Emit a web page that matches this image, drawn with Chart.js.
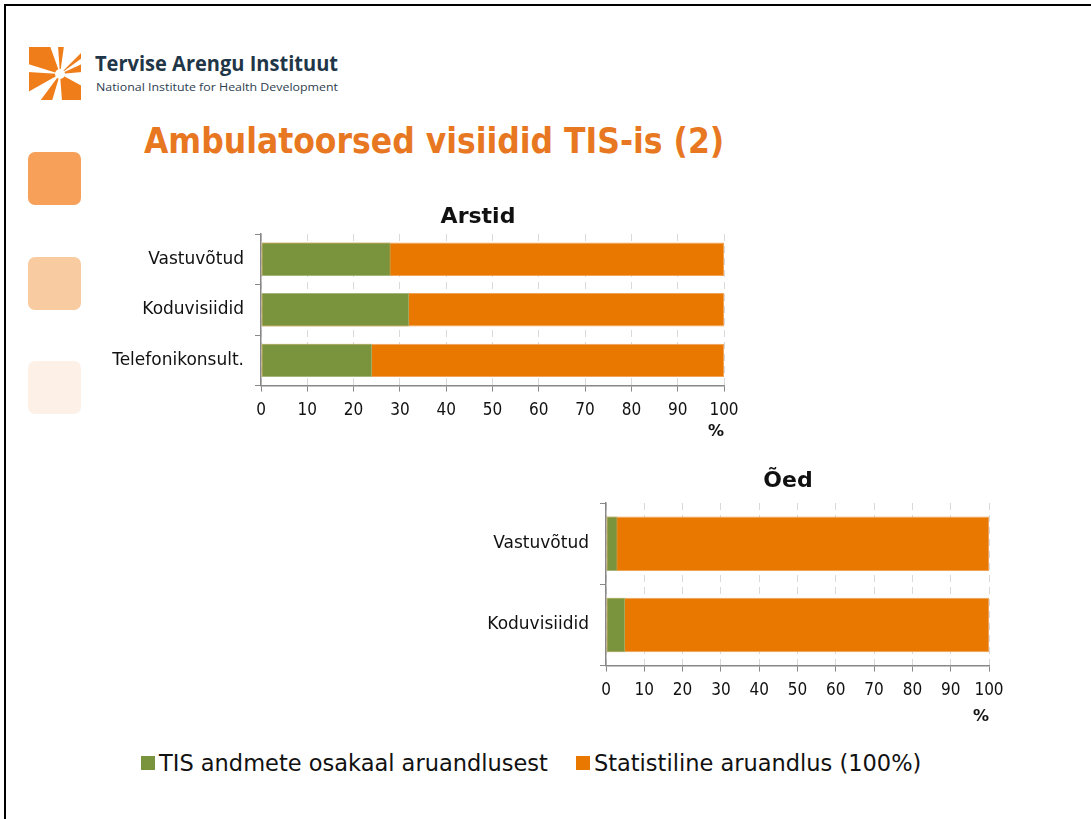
<!DOCTYPE html>
<html>
<head>
<meta charset="utf-8">
<script src="https://cdn.jsdelivr.net/npm/chart.js@4"></script>
<style>
  html, body { margin: 0; padding: 0; background: #fff; overflow: hidden; }
  body { width: 1091px; height: 819px; position: relative; font-family: 'DejaVu Sans', sans-serif; }
  .frame-top { position: absolute; left: 4px; top: 4px; width: 1087px; height: 2px; background: #000; }
  .frame-left { position: absolute; left: 4px; top: 4px; width: 2px; height: 815px; background: #000; }
  .sq { position: absolute; left: 28px; width: 53px; height: 53px; border-radius: 7px; }
  #title { position: absolute; left: 144px; top: 121px; font-size: 35px; font-weight: bold; color: #e87722; white-space: nowrap; font-family: 'DejaVu Sans Condensed', 'DejaVu Sans', sans-serif; }
  .box { position: absolute; }
  #legend { position: absolute; left: 141px; top: 750px; display: flex; align-items: center; font-size: 22.5px; color: #111; white-space: nowrap; }
  #legend .item { display: flex; align-items: center; margin-right: 28px; }
  #legend .swatch { width: 14px; height: 14px; margin-right: 4px; }
</style>
</head>
<body>
<div class="frame-top"></div>
<div class="frame-left"></div>

<svg style="position:absolute;left:0;top:0" width="360" height="110">
  <g>
    <rect x="29" y="47" width="52" height="53" fill="#ef7d1a"/>
    <polygon points="60,74 50,46 58,46" fill="#fff"/>
    <polygon points="60,74 64,46 82,46 82,52" fill="#fff"/>
    <polygon points="60,74 82,58 82,64" fill="#fff"/>
    <polygon points="60,74 82,72 82,86" fill="#fff"/>
    <polygon points="60,74 52,101 62,101" fill="#fff"/>
    <polygon points="60,74 28,92 28,100 40,101" fill="#fff"/>
    <polygon points="60,74 28,64 28,72" fill="#fff"/>
    <circle cx="60" cy="74" r="5" fill="#fff"/>
  </g>
  <text x="95" y="71" font-family="Open Sans, Noto Sans, sans-serif" font-weight="bold" font-size="21" fill="#1f3648" textLength="243" lengthAdjust="spacingAndGlyphs">Tervise Arengu Instituut</text>
  <text x="96" y="91" font-family="Open Sans, Noto Sans, sans-serif" font-size="11.5" fill="#2d4050" textLength="242" lengthAdjust="spacingAndGlyphs">National Institute for Health Development</text>
</svg>

<div class="sq" style="top:152px;background:#f7a05a"></div>
<div class="sq" style="top:257px;background:#f9cba0"></div>
<div class="sq" style="top:361px;background:#fdf0e6"></div>

<div id="title">Ambulatoorsed visiidid TIS-is (2)</div>

<div class="box" style="left:100px;top:200px;width:756px;height:241px"><canvas id="arstid"></canvas></div>
<div class="box" style="left:480px;top:463px;width:604px;height:263px"><canvas id="oed"></canvas></div>

<div id="legend"></div>

<script>
// data
const seriesNames = ['TIS andmete osakaal aruandlusest', 'Statistiline aruandlus (100%)'];
const seriesColors = ['#7a943e', '#e87800'];

const arstidLabels = ['Vastuvõtud', 'Koduvisiidid', 'Telefonikonsult.'];
const arstidTIS = [28, 32, 24];
const arstidStat = [100, 100, 100];

const oedLabels = ['Vastuvõtud', 'Koduvisiidid'];
const oedTIS = [3, 5];
const oedStat = [100, 100];

const xMin = 0, xMax = 100, xStep = 10;
const xTitle = '%';

const FONT = "'DejaVu Sans', sans-serif";
const FONT_NARROW = "'DejaVu Sans Condensed', 'DejaVu Sans', sans-serif";

// moves the chart title so it sits a little left of the plot centre, as in the slide
const titleShift = {
    id: 'titleShift',
    afterLayout(chart, args, opts) {
        const t = chart.titleBlock;
        if (!t) return;
        const w = t.right - t.left;
        const c = (chart.chartArea.left + chart.chartArea.right) / 2 + (opts.dx || 0);
        t.left = c - w / 2;
        t.right = c + w / 2;
    }
};

function makeChart(id, title, labels, tis, stat, opts) {
    const ctx = document.getElementById(id).getContext('2d');
    return new Chart(ctx, {
        type: 'bar',
        data: {
            labels: labels,
            datasets: [
                { label: seriesNames[0], data: tis, backgroundColor: seriesColors[0], borderColor: '#a3b77a', borderWidth: 1, borderSkipped: false },
                { label: seriesNames[1], data: stat, backgroundColor: seriesColors[1], borderColor: '#f1a35a', borderWidth: 1, borderSkipped: false }
            ]
        },
        plugins: [titleShift],
        options: {
            indexAxis: 'y',
            responsive: true,
            maintainAspectRatio: false,
            animation: false,
            datasets: { bar: { categoryPercentage: 1, barPercentage: opts.bar } },
            layout: { padding: { left: 0, right: opts.right, top: 0, bottom: 0 } },
            plugins: {
                legend: { display: false },
                tooltip: { enabled: false },
                titleShift: { dx: opts.titleDx },
                title: {
                    display: true,
                    text: title,
                    color: '#111',
                    font: { family: FONT, size: 22, weight: 'bold' },
                    padding: opts.titlePad
                }
            },
            scales: {
                x: {
                    min: xMin, max: xMax,
                    stacked: false,
                    ticks: { stepSize: xStep, color: '#111', padding: 9, font: { family: FONT_NARROW, size: 17 } },
                    grid: { color: '#d9d9d9', lineWidth: 1, tickLength: 6, tickColor: '#888', tickBorderDash: [] },
                    border: { color: '#888', width: 1.5, dash: [7, 5] },
                    title: { display: true, text: xTitle, align: 'end', color: '#111', font: { family: FONT, size: 16, weight: 'bold', lineHeight: 1 }, padding: opts.pctPad }
                },
                y: {
                    stacked: true,
                    afterFit: (s) => { s.width = opts.yWidth; },
                    ticks: { color: '#111', padding: 11, font: { family: FONT, size: 17 } },
                    grid: { drawOnChartArea: false, tickLength: 6, color: '#888' },
                    border: { color: '#888', width: 1.5 }
                }
            }
        }
    });
}

makeChart('arstid', 'Arstid', arstidLabels, arstidTIS, arstidStat,
    { bar: 0.66, right: 132, yWidth: 161, titleDx: -14.5, titlePad: { top: 4, bottom: 3.6 }, pctPad: { top: -6, bottom: 1 } });
makeChart('oed', 'Õed', oedLabels, oedTIS, oedStat,
    { bar: 0.67, right: 95, yWidth: 126, titleDx: -9.5, titlePad: { top: 5, bottom: 8.6 }, pctPad: { top: -1, bottom: 1 } });

// legend built from the series
const legend = document.getElementById('legend');
seriesNames.forEach((name, i) => {
    const item = document.createElement('div');
    item.className = 'item';
    const sw = document.createElement('span');
    sw.className = 'swatch';
    sw.style.background = seriesColors[i];
    const txt = document.createElement('span');
    txt.textContent = name;
    item.appendChild(sw);
    item.appendChild(txt);
    legend.appendChild(item);
});
</script>
</body>
</html>
